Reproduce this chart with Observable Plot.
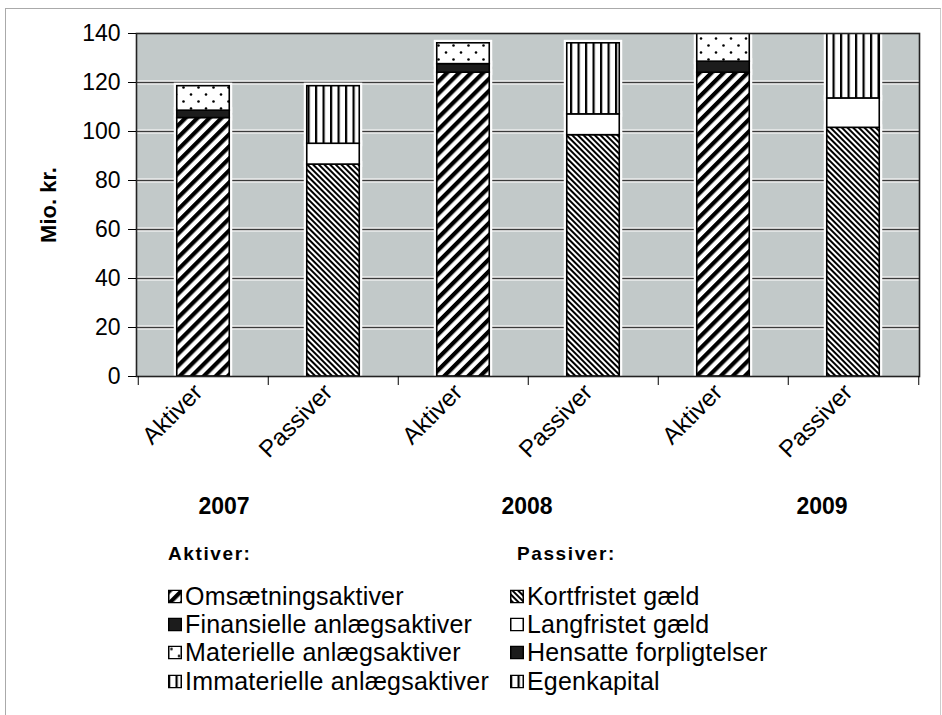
<!DOCTYPE html>
<html>
<head>
<meta charset="utf-8">
<script src="https://cdn.jsdelivr.net/npm/d3@7"></script>
<script src="https://cdn.jsdelivr.net/npm/@observablehq/plot@0.6"></script>
<style>
  html, body { margin: 0; padding: 0; background: #fff; }
  body { width: 942px; height: 715px; position: relative; overflow: hidden; font-family: "Liberation Sans", Arial, sans-serif; }
  #page { position: absolute; left: 5px; top: 8px; width: 934px; height: 720px; border-left: 1px solid #aaa; border-top: 1px solid #aaa; border-right: 1px solid #ccc; }
  #chart { position: absolute; left: 0; top: 0; }
  .year { position: absolute; font-weight: bold; font-size: 23px; transform: translate(-50%, -50%); }
  .hdr { position: absolute; font-weight: bold; font-size: 19px; letter-spacing: 1.6px; transform: translateY(-50%); }
  .item { position: absolute; font-size: 25px; letter-spacing: 0.2px; transform: translateY(-50%); white-space: nowrap; display: flex; align-items: center; }
  .item svg { margin-right: 3px; }
</style>
</head>
<body>
<svg width="0" height="0" style="position:absolute">
  <defs>
    <pattern id="pOms" patternUnits="userSpaceOnUse" width="8.5" height="8.5" patternTransform="rotate(45)">
      <rect width="8.5" height="8.5" fill="#fff"/>
      <rect width="4.2" height="8.5" fill="#000"/>
    </pattern>
    <pattern id="pDark" patternUnits="userSpaceOnUse" width="4" height="4">
      <rect width="4" height="4" fill="#1c1c1c"/>
    </pattern>
    <pattern id="pDots" patternUnits="userSpaceOnUse" width="15" height="14">
      <rect width="15" height="14" fill="#fff"/>
      <circle cx="3.5" cy="3.5" r="1.3" fill="#000"/>
      <circle cx="11" cy="10.5" r="1.3" fill="#000"/>
    </pattern>
    <pattern id="pVert" patternUnits="userSpaceOnUse" width="7.5" height="7.5">
      <rect width="7.5" height="7.5" fill="#fff"/>
      <rect x="0" width="2.2" height="7.5" fill="#000"/>
    </pattern>
    <pattern id="pKort" patternUnits="userSpaceOnUse" width="4" height="4" patternTransform="rotate(-45)">
      <rect width="4" height="4" fill="#fff"/>
      <rect width="2" height="4" fill="#000"/>
    </pattern>
    <pattern id="pWhite" patternUnits="userSpaceOnUse" width="4" height="4">
      <rect width="4" height="4" fill="#fff"/>
    </pattern>
  </defs>
</svg>
<div id="page"></div>
<div id="chart"></div>
<script>
// ---- data ----
const years = ["2007", "2008", "2009"];
const sides = ["Aktiver", "Passiver"];
const aktivSeries = ["Omsætningsaktiver", "Finansielle anlægsaktiver", "Materielle anlægsaktiver", "Immaterielle anlægsaktiver"];
const passivSeries = ["Kortfristet gæld", "Langfristet gæld", "Hensatte forpligtelser", "Egenkapital"];
const omsaetningsaktiver = [105.5, 124, 124];
const finansielleAnlaeg = [3, 3.5, 4.5];
const materielleAnlaeg = [10, 8.5, 12.5];
const immaterielleAnlaeg = [0, 0, 0];
const kortfristetGaeld = [86.5, 98.5, 101.5];
const langfristetGaeld = [8.5, 8.5, 12];
const hensatteForpligtelser = [0, 0, 0];
const egenkapital = [23.5, 29, 27.5];
const yTicks = [0, 20, 40, 60, 80, 100, 120, 140];
const gridValues = [20, 40, 60, 80, 100, 120];
const aktivPatterns = ["url(#pOms)", "url(#pDark)", "url(#pDots)", "url(#pVert)"];
const passivPatterns = ["url(#pKort)", "url(#pWhite)", "url(#pDark)", "url(#pVert)"];

const aktivValues = [omsaetningsaktiver, finansielleAnlaeg, materielleAnlaeg, immaterielleAnlaeg];
const passivValues = [kortfristetGaeld, langfristetGaeld, hensatteForpligtelser, egenkapital];

const keys = [];
const rows = [];
years.forEach((yr, i) => {
  sides.forEach(side => {
    const key = yr + " " + side;
    keys.push(key);
    const names = side === "Aktiver" ? aktivSeries : passivSeries;
    const vals = side === "Aktiver" ? aktivValues : passivValues;
    names.forEach((s, j) => rows.push({key, series: s, value: vals[j][i]}));
  });
});
const visible = rows.filter(d => d.value > 0);

const W = 942, mL = 136, mR = 23;
const step = (W - mL - mR) / keys.length;
const inset = (step - 53) / 2;

const chart = Plot.plot({
  width: W,
  height: 460,
  marginTop: 33,
  marginBottom: 84,
  marginLeft: mL,
  marginRight: mR,
  style: {fontFamily: "'Liberation Sans', Arial, sans-serif", background: "transparent", overflow: "visible", color: "#000"},
  x: {type: "band", domain: keys, padding: 0},
  y: {domain: [0, 140]},
  color: {type: "ordinal", domain: [...aktivSeries, ...passivSeries], range: [...aktivPatterns, ...passivPatterns]},
  marks: [
    Plot.frame({fill: "#c2c9c9"}),
    Plot.ruleY(gridValues, {stroke: "#fff", strokeWidth: 4}),
    Plot.ruleY(gridValues, {stroke: "#3a3a3a", strokeWidth: 1.3}),
    Plot.barY(visible, Plot.stackY({x: "key", y: "value", fill: "none", stroke: "#fff", strokeWidth: 6, insetLeft: inset, insetRight: inset, clip: true})),
    Plot.barY(visible, Plot.stackY({x: "key", y: "value", fill: "series", stroke: "#000", strokeWidth: 1.6, insetLeft: inset, insetRight: inset, clip: true})),
    Plot.frame({stroke: "#222", strokeWidth: 1.6}),
    Plot.axisY({ticks: yTicks, tickSize: 8, tickPadding: 8, fontSize: 23, label: null}),
    Plot.axisX({tickSize: 0, tickPadding: 12, tickRotate: -45, fontSize: 24, dx: -5, tickFormat: k => k.split(" ")[1], label: null}),
    Plot.axisX({tickSize: 9, tickFormat: () => "", dx: -step / 2, label: null}),
    Plot.axisX({ticks: [keys[keys.length - 1]], tickSize: 9, tickFormat: () => "", dx: step / 2, label: null}),
    Plot.text(["Mio. kr."], {frameAnchor: "left", dx: -88, rotate: -90, textAnchor: "middle", fontWeight: "bold", fontSize: 22, text: d => d})
  ]
});
document.getElementById("chart").appendChild(chart);

// year labels (group level of the category axis)
const yearX = [224, 527, 822];
years.forEach((yr, i) => {
  const d = document.createElement("div");
  d.className = "year";
  d.style.left = yearX[i] + "px";
  d.style.top = "506px";
  d.textContent = yr;
  document.body.appendChild(d);
});

// legend
function symbol(fill) {
  return `<svg width="14" height="14"><rect x="0.75" y="0.75" width="12.5" height="12.5" fill="${fill}" stroke="#000" stroke-width="1.5"/></svg>`;
}
function legendBlock(title, names, fills, xHdr, xItem) {
  const h = document.createElement("div");
  h.className = "hdr";
  h.style.left = xHdr + "px";
  h.style.top = "554px";
  h.textContent = title;
  document.body.appendChild(h);
  const rowY = [596, 624, 652, 681];
  names.forEach((n, i) => {
    const d = document.createElement("div");
    d.className = "item";
    d.style.left = xItem + "px";
    d.style.top = rowY[i] + "px";
    d.innerHTML = symbol(fills[i]) + `<span>${n}</span>`;
    document.body.appendChild(d);
  });
}
legendBlock("Aktiver:", aktivSeries, aktivPatterns, 168, 168);
legendBlock("Passiver:", passivSeries, passivPatterns, 517, 510);
</script>
</body>
</html>
